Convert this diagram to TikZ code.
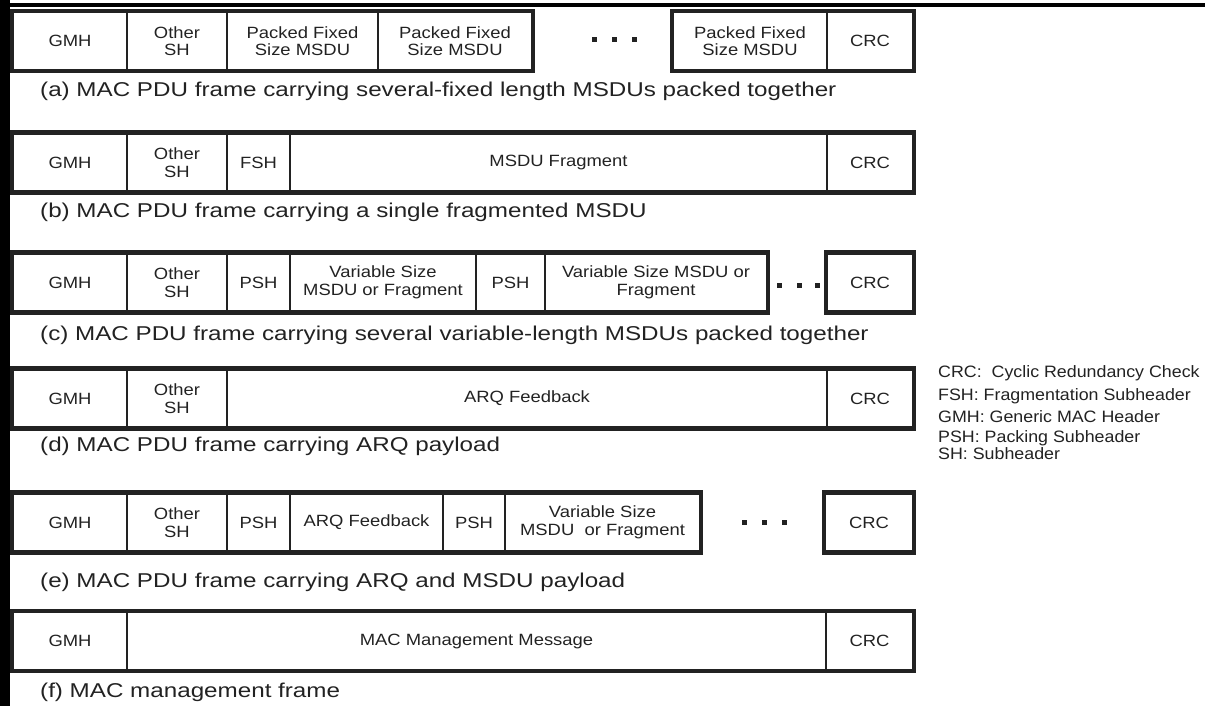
\documentclass[tikz,border=0pt]{standalone}
\usepackage{fontspec}
\setmainfont{Liberation Sans}
\newfontfamily\cellfont[FakeStretch=1.13]{Liberation Sans}
\newfontfamily\capfont[FakeStretch=1.21]{Liberation Sans}
\newfontfamily\keyfont[FakeStretch=1.08]{Liberation Sans}
\usetikzlibrary{fit}
\definecolor{ink}{HTML}{222222}

\begin{document}
\begin{tikzpicture}[x=1pt,y=-1pt,
  cell/.style={draw=ink, line width=2.6pt, minimum height=58.5pt, inner sep=0pt,
    align=center, text=ink, font=\cellfont\fontsize{16.3}{17.5}\selectfont},
  group/.style={draw=ink, line width=3.8pt, inner sep=0pt},
  caption/.style={anchor=base west, inner sep=0pt, text=ink,
    font=\capfont\fontsize{20}{24}\selectfont},
  legend/.style={anchor=base west, inner sep=0pt, text=ink,
    font=\keyfont\fontsize{16.5}{20}\selectfont},
  sq/.style={fill=ink, minimum size=5pt, inner sep=0pt},
]
\useasboundingbox (0,0) rectangle (1205,706);
% page rules at the top and left
\fill[black] (0,3) rectangle (1205,7.5);
\fill[black] (0,0) rectangle (9.5,706);

% (a) fixed-length MSDUs packed together
\node[cell, minimum width=114pt] (aG)  at (70,41)    {GMH};
\node[cell, minimum width=100pt] (aO)  at (177,41)   {Other\\SH};
\node[cell, minimum width=151pt] (aP1) at (302.5,41) {Packed Fixed\\Size MSDU};
\node[cell, minimum width=154pt] (aP2) at (455,41)   {Packed Fixed\\Size MSDU};
\node[cell, minimum width=154pt] (aP3) at (750,41)   {Packed Fixed\\Size MSDU};
\node[cell, minimum width=86pt]  (aC)  at (870,41)   {CRC};
\node[group, fit=(aG)(aP2)] (aL) {};
\node[group, fit=(aP3)(aC)] (aR) {};
\node[sq] (ad1) at (594.5,39.5) {};
\node[sq] (ad2) at (614.5,39.5) {};
\node[sq] (ad3) at (634.5,39.5) {};
\node[caption] (acap) at (40,97)
  {(a) MAC PDU frame carrying several-fixed length MSDUs packed together};

% (b) single fragmented MSDU
\node[cell, minimum width=114pt] (bG) at (70,162.5)    {GMH};
\node[cell, minimum width=100pt] (bO) at (177,162.5)   {Other\\SH};
\node[cell, minimum width=63pt]  (bF) at (258.5,162.5) {FSH};
\node[cell, minimum width=537pt] (bM) at (558.5,162.5) {MSDU Fragment};
\node[cell, minimum width=86pt]  (bC) at (870,162.5)   {CRC};
\node[group, fit=(bG)(bC)] (bL) {};
\node[caption] (bcap) at (40,217)
  {(b) MAC PDU frame carrying a single fragmented MSDU};

% (c) variable-length MSDUs packed together
\node[cell, minimum width=114pt] (cG)  at (70,282.5)    {GMH};
\node[cell, minimum width=100pt] (cO)  at (177,282.5)   {Other\\SH};
\node[cell, minimum width=63pt]  (cP1) at (258.5,282.5) {PSH};
\node[cell, minimum width=186pt] (cV1) at (383,282.5)   {Variable Size\\MSDU or Fragment};
\node[cell, minimum width=69pt]  (cP2) at (510.5,282.5) {PSH};
\node[cell, minimum width=222pt] (cV2) at (656,282.5)   {Variable Size MSDU or\\Fragment};
\node[cell, minimum width=86pt]  (cC)  at (870,282.5)   {CRC};
\node[group, fit=(cG)(cV2)] (cL) {};
\node[group, fit=(cC)] (cR) {};
\node[sq] (cd1) at (779.5,285) {};
\node[sq] (cd2) at (799.5,285) {};
\node[sq] (cd3) at (817.5,285) {};
\node[caption] (ccap) at (40,340)
  {(c) MAC PDU frame carrying several variable-length MSDUs packed together};

% (d) ARQ payload
\node[cell, minimum width=114pt] (dG) at (70,398.5)  {GMH};
\node[cell, minimum width=100pt] (dO) at (177,398.5) {Other\\SH};
\node[cell, minimum width=600pt] (dA) at (527,398.5) {ARQ Feedback};
\node[cell, minimum width=86pt]  (dC) at (870,398.5) {CRC};
\node[group, fit=(dG)(dC)] (dL) {};
\node[caption] (dcap) at (40,451)
  {(d) MAC PDU frame carrying ARQ payload};

% (e) ARQ and MSDU payload
\node[cell, minimum width=114pt] (eG)  at (70,522.5)    {GMH};
\node[cell, minimum width=100pt] (eO)  at (177,522.5)   {Other\\SH};
\node[cell, minimum width=63pt]  (eP1) at (258.5,522.5) {PSH};
\node[cell, minimum width=153pt] (eA)  at (366.5,522.5) {ARQ Feedback};
\node[cell, minimum width=62pt]  (eP2) at (474,522.5)   {PSH};
\node[cell, minimum width=195pt] (eV)  at (602.5,522.5) {Variable Size\\MSDU\ \ or Fragment};
\node[cell, minimum width=88pt]  (eC)  at (869,522.5)   {CRC};
\node[group, fit=(eG)(eV)] (eL) {};
\node[group, fit=(eC)] (eR) {};
\node[sq] (ed1) at (744.5,522.5) {};
\node[sq] (ed2) at (764.5,522.5) {};
\node[sq] (ed3) at (784.5,522.5) {};
\node[caption] (ecap) at (40,587)
  {(e) MAC PDU frame carrying ARQ and MSDU payload};

% (f) MAC management frame
\node[cell, minimum width=114pt] (fG) at (70,641)    {GMH};
\node[cell, minimum width=699pt] (fM) at (476.5,641) {MAC Management Message};
\node[cell, minimum width=87pt]  (fC) at (869.5,641) {CRC};
\node[group, fit=(fG)(fC)] (fL) {};
\node[caption] (fcap) at (40,697.5) {(f) MAC management frame};

% abbreviations
\node[legend] (k1) at (938,377) {CRC:\ \ Cyclic Redundancy Check};
\node[legend] (k2) at (938,400) {FSH: Fragmentation Subheader};
\node[legend] (k3) at (938,422) {GMH: Generic MAC Header};
\node[legend] (k4) at (938,442) {PSH: Packing Subheader};
\node[legend] (k5) at (938,459) {SH: Subheader};
\end{tikzpicture}
\end{document}
